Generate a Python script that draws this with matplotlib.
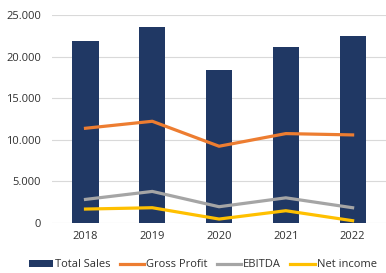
import numpy as np
import matplotlib.pyplot as plt
from matplotlib.ticker import FuncFormatter

years = ['2018', '2019', '2020', '2021', '2022']
total_sales = [21850, 23500, 18350, 21100, 22420]
gross_profit = [11390, 12230, 9230, 10750, 10590]
ebitda = [2840, 3800, 1960, 3030, 1840]
net_income = [1680, 1840, 480, 1480, 280]

plt.rcParams['font.family'] = ['Open Sans', 'DejaVu Sans']

fig = plt.figure(figsize=(3.86, 2.73), dpi=100)
ax = fig.add_axes([0.135, 0.183, 0.865, 0.762])

x = np.arange(len(years))
ax.bar(x, total_sales, width=0.39, color='#203864', label='Total Sales', zorder=2)
ax.plot(x, gross_profit, color='#ED7D31', lw=2.3, label='Gross Profit', zorder=3)
ax.plot(x, ebitda, color='#A5A5A5', lw=2.3, label='EBITDA', zorder=3)
ax.plot(x, net_income, color='#FFC000', lw=2.3, label='Net income', zorder=3)

ax.set_xlim(-0.5, 4.5)
ax.set_ylim(0, 25000)
ax.set_yticks(range(0, 25001, 5000))
ax.yaxis.set_major_formatter(FuncFormatter(lambda v, p: f'{int(v):,}'.replace(',', '.')))
ax.set_xticks(x)
ax.set_xticklabels(years)
ax.grid(axis='y', color='#D9D9D9', lw=0.8, zorder=0)
for s in ax.spines.values():
    s.set_visible(False)
ax.tick_params(length=0, labelsize=8, colors='#303030')
ax.tick_params(axis='y', pad=8)
ax.tick_params(axis='x', pad=6)

# bars first in the legend, like the original
handles, labels = ax.get_legend_handles_labels()
order = [labels.index(n) for n in ['Total Sales', 'Gross Profit', 'EBITDA', 'Net income']]
fig.legend([handles[i] for i in order], [labels[i] for i in order],
           loc='center', bbox_to_anchor=(0.525, 0.03), ncol=4, frameon=False,
           fontsize=8, handlelength=2.2, handleheight=0.5, handletextpad=0.2,
           columnspacing=0.8, labelcolor='#303030')

fig.savefig('out.png', dpi=100)
